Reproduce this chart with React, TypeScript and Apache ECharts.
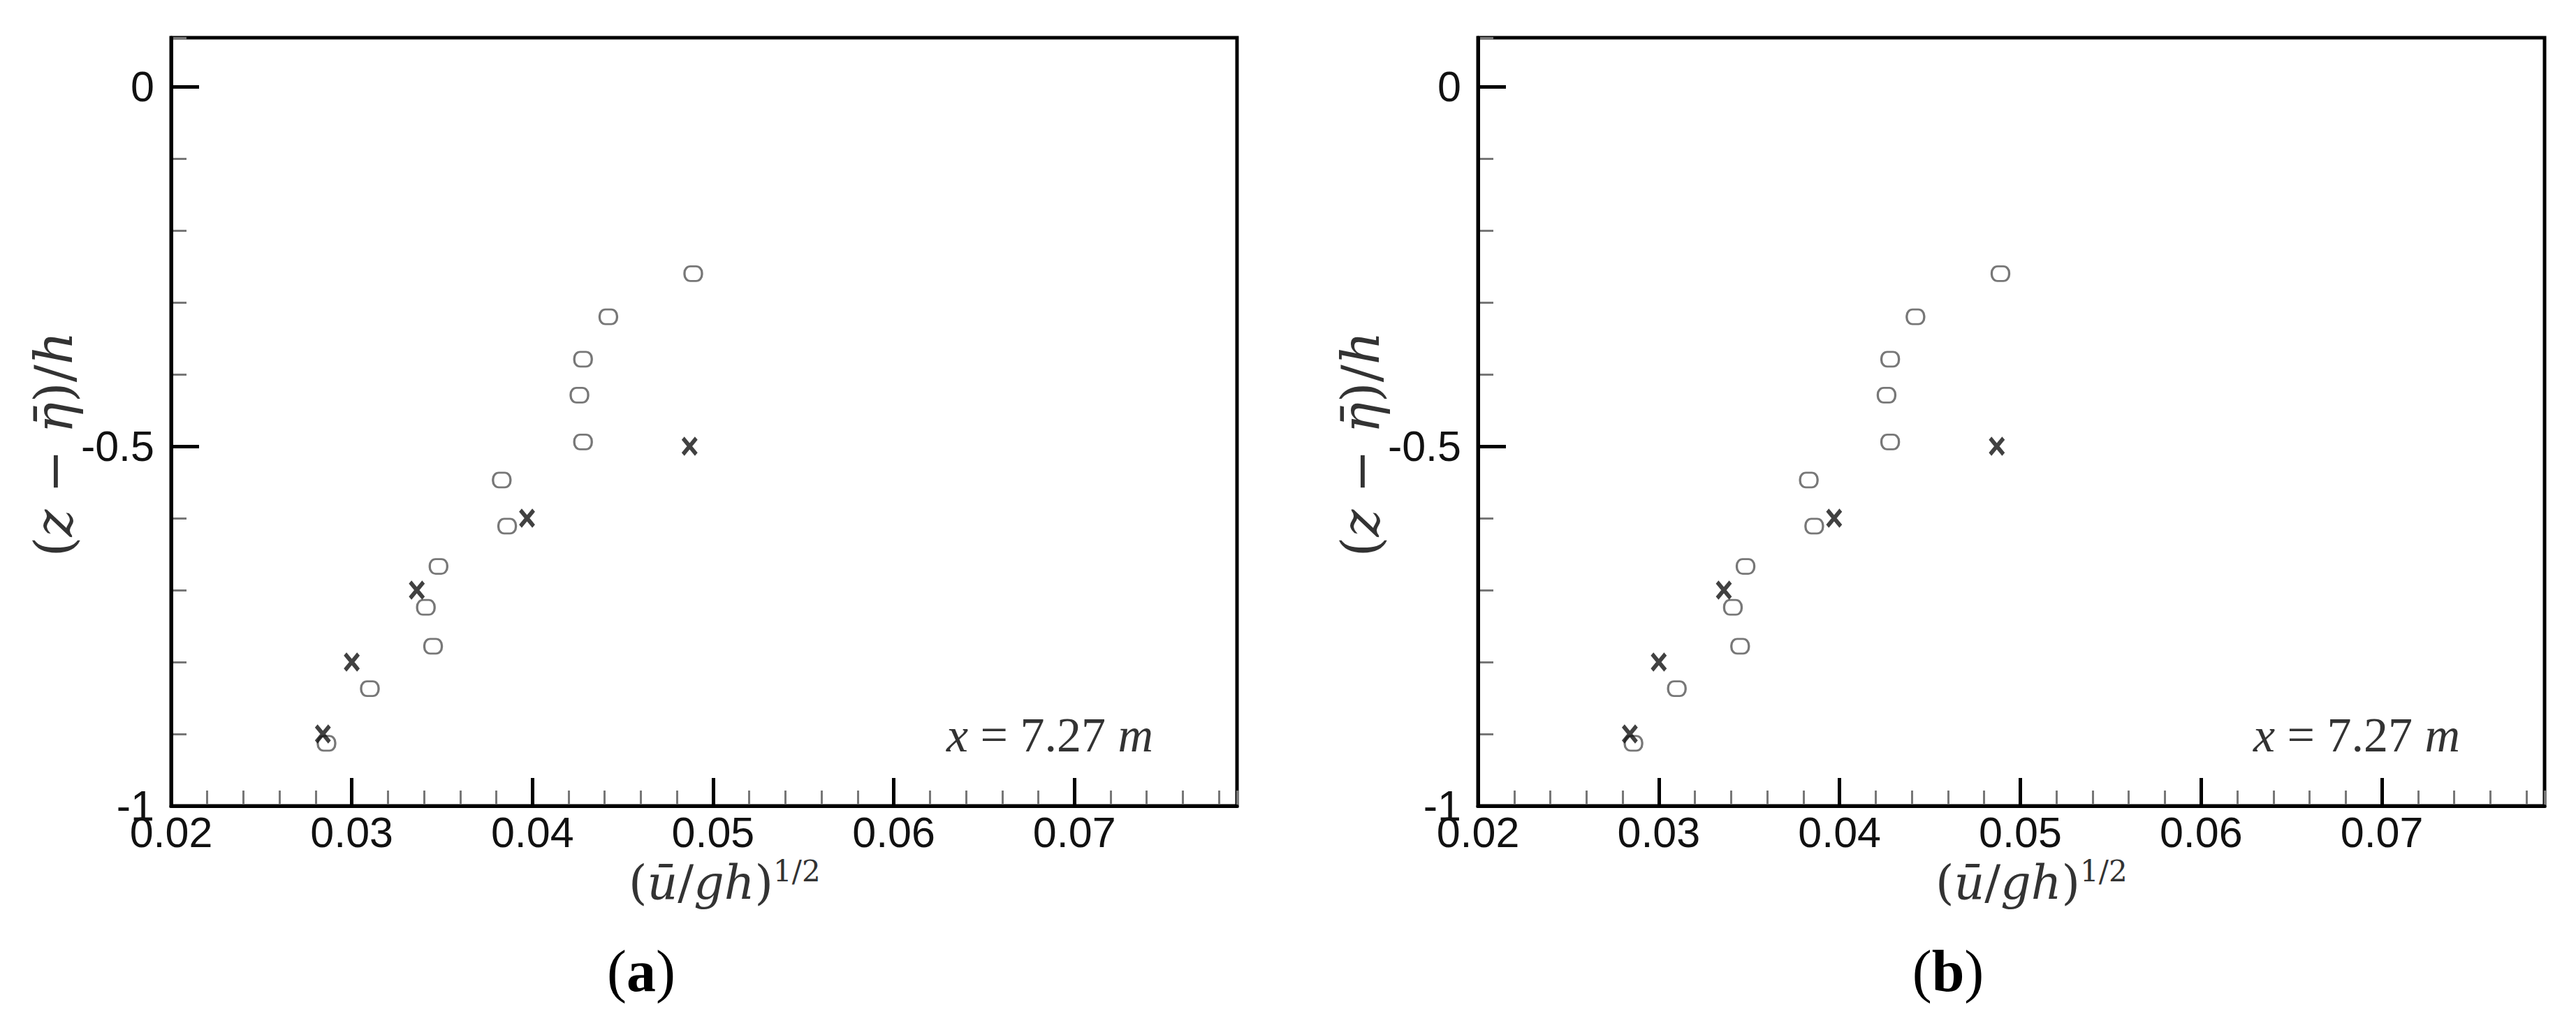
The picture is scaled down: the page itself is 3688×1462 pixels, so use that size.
import React, { useEffect, useRef } from 'react';
import * as echarts from 'echarts';

// ---- data (both panels show the same profile) ----
const circleU = [0.0489, 0.0442, 0.0428, 0.0426, 0.0428, 0.0383, 0.0386, 0.0348, 0.0341, 0.0345, 0.0310, 0.0286];
const circleZ = [-0.260, -0.320, -0.379, -0.429, -0.494, -0.547, -0.611, -0.667, -0.724, -0.778, -0.837, -0.913];
const crossU = [0.0487, 0.0397, 0.0336, 0.0300, 0.0284];
const crossZ = [-0.5, -0.6, -0.7, -0.8, -0.9];

const xTickValues = [0.02, 0.03, 0.04, 0.05, 0.06, 0.07];
const xTickLabels = ['0.02', '0.03', '0.04', '0.05', '0.06', '0.07'];
const yTickValues = [-1, -0.5, 0];
const yTickLabels = ['-1', '-0.5', '0'];
const panelNames = ['a', 'b'];
const stationText = ' = 7.27 ';

const X_MIN = 0.02;
const X_MAX = 0.079;
const Y_MIN = -1;
const Y_MAX = 0.068;

// ---- layout ----
const PANELS = [
  { left: 245, top: 54, width: 1526, height: 1100 },
  { left: 2116, top: 54, width: 1527, height: 1100 },
];

const SANS = '"Liberation Sans", Arial, Helvetica, sans-serif';
const MATH = '"DejaVu Serif", serif';
const SERIF = '"Liberation Serif", "Times New Roman", serif';

const CROSS = 'path://M0,0L10,12M10,0L0,12';
const OVAL = 'path://M4,0H8A4,4 0 0 1 12,4V5A4,4 0 0 1 8,9H4A4,4 0 0 1 0,5V4A4,4 0 0 1 4,0Z';

function labelFor(values: number[], labels: string[]) {
  return (v: number) => {
    for (let i = 0; i < values.length; i++) {
      if (Math.abs(values[i] - v) < 1e-9) return labels[i];
    }
    return '';
  };
}

function buildOption() {
  const grid: any[] = [];
  const xAxis: any[] = [];
  const yAxis: any[] = [];
  const series: any[] = [];
  const graphic: any[] = [];

  PANELS.forEach((p, i) => {
    grid.push({
      left: p.left,
      top: p.top,
      width: p.width,
      height: p.height,
      show: true,
      borderColor: '#000',
      borderWidth: 5,
      backgroundColor: '#fff',
      outerBoundsMode: 'none',
      containLabel: false,
    });
    // major x axis
    xAxis.push({
      type: 'value',
      gridIndex: i,
      position: 'bottom',
      min: X_MIN,
      max: X_MAX,
      interval: 0.01,
      axisLine: { show: true, onZero: false, lineStyle: { color: '#000', width: 5 } },
      axisTick: { show: true, inside: true, length: 40, lineStyle: { color: '#000', width: 5 } },
      axisLabel: {
        show: true,
        margin: 16,
        fontSize: 61,
        lineHeight: 44,
        fontFamily: SANS,
        color: '#111',
        showMaxLabel: false,
        formatter: labelFor(xTickValues, xTickLabels),
      },
      splitLine: { show: false },
      z: 3,
    });
    // minor x ticks
    xAxis.push({
      type: 'value',
      gridIndex: i,
      position: 'bottom',
      offset: 0,
      min: X_MIN,
      max: X_MAX,
      interval: 0.002,
      axisLine: { show: false, onZero: false },
      axisTick: { show: true, inside: true, length: 22, lineStyle: { color: '#777', width: 3 } },
      axisLabel: { show: false },
      splitLine: { show: false },
      z: 2,
    });
    // major y axis
    yAxis.push({
      type: 'value',
      gridIndex: i,
      position: 'left',
      min: Y_MIN,
      max: Y_MAX,
      interval: 0.5,
      axisLine: { show: true, onZero: false, lineStyle: { color: '#000', width: 5 } },
      axisTick: { show: true, inside: true, length: 40, lineStyle: { color: '#000', width: 5 } },
      axisLabel: {
        show: true,
        margin: 24,
        fontSize: 61,
        lineHeight: 40,
        fontFamily: SANS,
        color: '#111',
        showMaxLabel: false,
        formatter: labelFor(yTickValues, yTickLabels),
      },
      splitLine: { show: false },
      z: 3,
    });
    // minor y ticks
    yAxis.push({
      type: 'value',
      gridIndex: i,
      position: 'left',
      offset: 0,
      min: Y_MIN,
      max: Y_MAX,
      interval: 0.1,
      axisLine: { show: false, onZero: false },
      axisTick: { show: true, inside: true, length: 22, lineStyle: { color: '#777', width: 3 } },
      axisLabel: { show: false },
      splitLine: { show: false },
      z: 2,
    });

    series.push({
      type: 'scatter',
      xAxisIndex: 2 * i,
      yAxisIndex: 2 * i,
      symbol: OVAL,
      symbolSize: [25, 21],
      itemStyle: { color: 'rgba(255,255,255,0)', borderColor: '#555', borderWidth: 3 },
      data: circleU.map((u, k) => [u, circleZ[k]]),
      z: 5,
    });
    series.push({
      type: 'scatter',
      xAxisIndex: 2 * i,
      yAxisIndex: 2 * i,
      symbol: CROSS,
      symbolSize: [19, 23],
      itemStyle: { color: 'rgba(0,0,0,0)', borderColor: '#111', borderWidth: 6 },
      data: crossU.map((u, k) => [u, crossZ[k]]),
      z: 6,
    });

    // x-axis title
    graphic.push({
      type: 'text',
      x: p.left + 655,
      y: 1226,
      style: {
        text: '{p|(}{i|ū}{p|/}{i|gh}{p|)}{s|1/2}',
        align: 'left',
        verticalAlign: 'top',
        fill: '#333',
        rich: {
          p: { fontFamily: MATH, fontSize: 68, lineHeight: 74, fill: '#333', color: '#333' },
          i: { fontFamily: MATH, fontStyle: 'italic', fontSize: 68, lineHeight: 74, fill: '#333', color: '#333' },
          s: { fontFamily: MATH, fontSize: 42, lineHeight: 44, verticalAlign: 'top', fill: '#333', color: '#333' },
        },
      },
      z: 10,
    });
    // y-axis title
    graphic.push({
      type: 'text',
      x: p.left - 168,
      y: 636,
      rotation: Math.PI / 2,
      style: {
        text: '{p|(}{i|z}{p| − }{i|η̄}{p|)/}{i|h}',
        align: 'center',
        verticalAlign: 'middle',
        fill: '#333',
        rich: {
          p: { fontFamily: MATH, fontSize: 74, lineHeight: 84, fill: '#333', color: '#333' },
          i: { fontFamily: MATH, fontStyle: 'italic', fontSize: 74, lineHeight: 84, fill: '#333', color: '#333' },
        },
      },
      z: 10,
    });
    // station annotation
    graphic.push({
      type: 'text',
      x: p.left + 1110,
      y: 1052,
      style: {
        text: '{i|x}{p|' + stationText + '}{i|m}',
        align: 'left',
        verticalAlign: 'middle',
        fill: '#333',
        rich: {
          p: { fontFamily: SERIF, fontSize: 70, fill: '#333', color: '#333' },
          i: { fontFamily: SERIF, fontStyle: 'italic', fontSize: 70, fill: '#333', color: '#333' },
        },
      },
      z: 10,
    });
    // panel label
    graphic.push({
      type: 'text',
      x: p.left + 673,
      y: 1390,
      style: {
        text: '{p|(}{b|' + panelNames[i] + '}{p|)}',
        align: 'center',
        verticalAlign: 'middle',
        fill: '#000',
        rich: {
          p: { fontFamily: SERIF, fontSize: 84, fill: '#000', color: '#000' },
          b: { fontFamily: SERIF, fontWeight: 'bold', fontSize: 84, fill: '#000', color: '#000' },
        },
      },
      z: 10,
    });
  });

  return {
    animation: false,
    backgroundColor: '#fff',
    grid,
    xAxis,
    yAxis,
    series,
    graphic,
  };
}

export default function App() {
  const ref = useRef<HTMLDivElement>(null);
  useEffect(() => {
    if (!ref.current) return;
    const chart = echarts.init(ref.current, undefined, { renderer: 'svg' });
    chart.setOption(buildOption() as any);
    return () => chart.dispose();
  }, []);
  return (
    <div
      ref={ref}
      style={{ position: 'absolute', left: 0, top: 0, width: 3688, height: 1462, background: '#fff' }}
    />
  );
}
